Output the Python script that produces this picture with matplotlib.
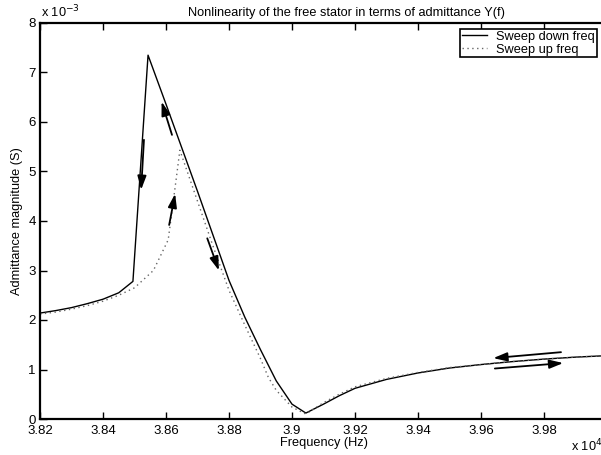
import numpy as np
import matplotlib
matplotlib.use('Agg')
import matplotlib.pyplot as plt

plt.rcParams['font.family'] = ['Liberation Sans', 'DejaVu Sans']

# Sweep down (solid) values, frequency in units of 1e4 Hz, admittance in 1e-3 S
down_freq = [3.82, 3.825, 3.83, 3.835, 3.84, 3.845, 3.8495, 3.8543, 3.86, 3.865, 3.87, 3.875,
             3.88, 3.885, 3.89, 3.895, 3.9, 3.9044, 3.91, 3.915, 3.92, 3.93, 3.94, 3.95,
             3.96, 3.97, 3.98, 3.99, 4.0]
down_adm = [2.14, 2.19, 2.25, 2.33, 2.42, 2.55, 2.78, 7.35, 6.36, 5.48, 4.6, 3.7,
            2.8, 2.06, 1.4, 0.77, 0.3, 0.12, 0.3, 0.47, 0.62, 0.8, 0.93, 1.03,
            1.1, 1.16, 1.21, 1.25, 1.28]

# Sweep up (dotted) values
up_freq = [3.82, 3.825, 3.83, 3.835, 3.84, 3.845, 3.85, 3.856, 3.8607, 3.8632, 3.8644, 3.87,
           3.875, 3.88, 3.885, 3.89, 3.8925, 3.895, 3.9, 3.9044, 3.91, 3.915, 3.92, 3.93,
           3.94, 3.95, 3.96, 3.97, 3.98, 3.99, 4.0]
up_adm = [2.12, 2.16, 2.22, 2.29, 2.38, 2.5, 2.65, 3.0, 3.62, 4.83, 5.43, 4.4,
          3.48, 2.6, 1.9, 1.22, 0.84, 0.58, 0.24, 0.1, 0.33, 0.5, 0.65, 0.82,
          0.94, 1.04, 1.1, 1.16, 1.21, 1.25, 1.28]

# Direction arrows: (tail_f, tail_y, head_f, head_y)
arrows = [
    (3.8530, 5.64, 3.8521, 4.63),
    (3.8619, 5.74, 3.8586, 6.41),
    (3.8610, 3.92, 3.8629, 4.55),
    (3.8731, 3.65, 3.8768, 3.00),
    (3.9854, 1.35, 3.9639, 1.23),
    (3.9644, 1.02, 3.9861, 1.13),
]

fs = 9.2

fig = plt.figure(figsize=(6.01, 4.55), dpi=100)
ax = fig.add_axes([40 / 601, 1 - 419 / 455, 567 / 601, 396 / 455])

ax.plot(down_freq, down_adm, color='k', lw=1.0, label='Sweep down freq')
ax.plot(up_freq, up_adm, color='0.4', lw=1.0, ls=(0, (1, 2.5)), label='Sweep up freq')

for tf, ty, hf, hy in arrows:
    ax.annotate('', xy=(hf, hy), xytext=(tf, ty),
                arrowprops=dict(arrowstyle='-|>,head_length=0.75,head_width=0.24', color='k',
                                lw=1.3, mutation_scale=11, shrinkA=0, shrinkB=0))

ax.set_xlim(3.82, 4.0)
ax.set_ylim(0, 8)
ax.set_xticks([3.82, 3.84, 3.86, 3.88, 3.9, 3.92, 3.94, 3.96, 3.98])
ax.set_xticklabels(['3.82', '3.84', '3.86', '3.88', '3.9', '3.92', '3.94', '3.96', '3.98'])
ax.set_yticks(range(0, 9))
ax.tick_params(direction='in', length=5, width=1, labelsize=9.5, top=True, right=False, pad=3)
ax.tick_params(axis='x', pad=4.5)
for s in ax.spines.values():
    s.set_linewidth(1.6)

ax.set_xlabel('Frequency (Hz)', fontsize=fs, labelpad=0)
ax.set_ylabel('Admittance magnitude (S)', fontsize=fs, labelpad=4)
ax.set_title('Nonlinearity of the free stator in terms of admittance Y(f)', fontsize=fs,
             pad=5, x=(347 - 40) / 567)

fig.text(41 / 601, 1 - 17 / 455, r'x 10$^{-3}$', fontsize=fs, va='baseline')
fig.text(571 / 601, 1 - 451 / 455, r'x 10$^{4}$', fontsize=fs, va='baseline')

leg = ax.legend(loc='upper left', bbox_to_anchor=(460 / 601, 1 - 29 / 455),
                bbox_transform=fig.transFigure, fontsize=fs, fancybox=False,
                framealpha=1, edgecolor='k', borderaxespad=0, handlelength=2.0,
                borderpad=0.15, labelspacing=0.05, handletextpad=0.7)
leg.get_frame().set_linewidth(1.2)

fig.savefig('out.png', dpi=100)
